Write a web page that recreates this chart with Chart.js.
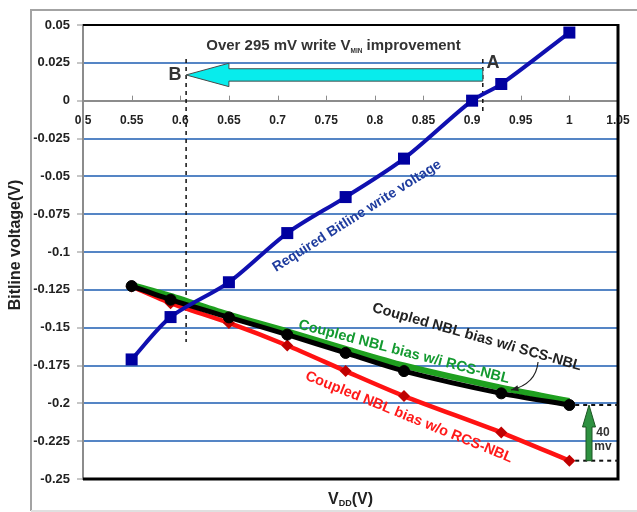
<!DOCTYPE html>
<html lang="en">
<head>
  <meta charset="UTF-8" />
  <title>Bitline voltage vs VDD</title>
  <script src="https://cdn.jsdelivr.net/npm/chart.js"></script>
  <style>
    html, body { margin: 0; padding: 0; background: #fff; }
    #wrap { width: 637px; height: 512px; }
  </style>
</head>
<body>
  <div id="wrap"><canvas id="chart" width="637" height="512"></canvas></div>

  <script>
    // VDD sweep points (V)
    const vddRequired = [0.55, 0.59, 0.65, 0.71, 0.77, 0.83, 0.90, 0.93, 1.00];
    const vddNbl = [0.55, 0.59, 0.65, 0.71, 0.77, 0.83, 0.93, 1.00];

    // Bitline voltage (V)
    const requiredWrite = [-0.171, -0.143, -0.120, -0.0875, -0.0637, -0.0383, 0.000, 0.011, 0.045];
    const scsNbl = [-0.1225, -0.1315, -0.1432, -0.1546, -0.1667, -0.1787, -0.1934, -0.2011];
    const rcsNbl = [-0.1217, -0.1290, -0.1414, -0.1524, -0.1640, -0.1750, -0.1897, -0.1985];
    const noRcsNbl = [-0.1228, -0.1338, -0.1469, -0.1618, -0.1787, -0.1952, -0.2193, -0.2379];

    // axis ranges / steps
    const xTicks = [0.5, 1.05, 0.05];
    const yTicks = [-0.25, 0.05, 0.025];

    // annotation anchors (in data units)
    const pointA = 0.911;
    const pointB = 0.606;

    const pts = (xs, ys) => xs.map((x, i) => ({ x: x, y: ys[i] }));
    const fmt = v => String(parseFloat(Number(v).toFixed(3)));
    const FONT = "'Liberation Sans', Arial, sans-serif";

    function rotText(ctx, txt, x, y, deg, font, color) {
      ctx.save();
      ctx.translate(x, y);
      ctx.rotate(deg * Math.PI / 180);
      ctx.font = font;
      ctx.fillStyle = color;
      ctx.textAlign = "center";
      ctx.textBaseline = "middle";
      ctx.fillText(txt, 0, 0);
      ctx.restore();
    }

    // text with a subscript part in the middle, centred on cx
    function subText(ctx, pre, sub, post, cx, y, size, subSize, color) {
      ctx.save();
      ctx.fillStyle = color;
      ctx.textBaseline = "alphabetic";
      ctx.textAlign = "left";
      ctx.font = "bold " + size + "px " + FONT;
      const w1 = ctx.measureText(pre).width;
      const w3 = ctx.measureText(post).width;
      ctx.font = "bold " + subSize + "px " + FONT;
      const w2 = ctx.measureText(sub).width;
      let x = cx - (w1 + w2 + w3) / 2;
      ctx.font = "bold " + size + "px " + FONT;
      ctx.fillText(pre, x, y);
      x += w1;
      ctx.font = "bold " + subSize + "px " + FONT;
      ctx.fillText(sub, x, y + size * 0.15);
      x += w2;
      ctx.font = "bold " + size + "px " + FONT;
      ctx.fillText(post, x, y);
      ctx.restore();
    }

    const frame = {
      id: "frame",
      beforeDraw(chart) {
        const ctx = chart.ctx;
        ctx.save();
        ctx.fillStyle = "#fff";
        ctx.fillRect(0, 0, chart.width, chart.height);
        ctx.strokeStyle = "#a3a3a3";
        ctx.lineWidth = 2;
        ctx.beginPath();
        ctx.moveTo(31, 511); ctx.lineTo(31, 10); ctx.lineTo(chart.width, 10);
        ctx.stroke();
        ctx.strokeStyle = "#e0e0e0";
        ctx.beginPath();
        ctx.moveTo(31, 511); ctx.lineTo(chart.width, 511);
        ctx.stroke();
        ctx.restore();
      },
      beforeDatasetsDraw(chart) {
        const { ctx, chartArea: a, scales } = chart;
        const x = scales.x, y = scales.y;
        ctx.save();
        // small inward tick marks on the zero axis
        const y0 = y.getPixelForValue(0);
        ctx.strokeStyle = "#8c8c8c";
        ctx.lineWidth = 1;
        for (let v = xTicks[0]; v <= xTicks[1] + 1e-9; v += xTicks[2]) {
          const px = Math.round(x.getPixelForValue(v)) + 0.5;
          ctx.beginPath(); ctx.moveTo(px, y0); ctx.lineTo(px, y0 - 5); ctx.stroke();
        }
        // plot border
        ctx.strokeStyle = "#000";
        ctx.lineWidth = 2;
        ctx.beginPath(); ctx.moveTo(a.left, a.top); ctx.lineTo(a.right, a.top); ctx.stroke();
        ctx.lineWidth = 3;
        ctx.beginPath(); ctx.moveTo(a.right, a.top - 1); ctx.lineTo(a.right, a.bottom); ctx.lineTo(a.left, a.bottom); ctx.stroke();

        // dashed marker lines A and B
        ctx.strokeStyle = "#111";
        ctx.lineWidth = 1.5;
        ctx.setLineDash([4, 4]);
        const xa = x.getPixelForValue(pointA), xb = x.getPixelForValue(pointB);
        ctx.beginPath(); ctx.moveTo(xa, 59); ctx.lineTo(xa, 114); ctx.stroke();
        ctx.beginPath(); ctx.moveTo(xb, 59); ctx.lineTo(xb, y.getPixelForValue(-0.1595)); ctx.stroke();
        // dashed levels for the 40 mV gap
        const yTop = y.getPixelForValue(scsNbl[scsNbl.length - 1]);
        const yBot = y.getPixelForValue(noRcsNbl[noRcsNbl.length - 1]);
        const xs = x.getPixelForValue(1.006);
        ctx.lineWidth = 2;
        ctx.beginPath(); ctx.moveTo(xs, yTop); ctx.lineTo(a.right, yTop); ctx.stroke();
        ctx.beginPath(); ctx.moveTo(xs, yBot); ctx.lineTo(a.right, yBot); ctx.stroke();
        ctx.setLineDash([]);
        ctx.restore();
      },
      afterDatasetsDraw(chart) {
        const { ctx, scales } = chart;
        const x = scales.x, y = scales.y;
        const P = (vx, vy) => [x.getPixelForValue(vx), y.getPixelForValue(vy)];
        ctx.save();

        // cyan arrow from A to B
        const tipX = x.getPixelForValue(pointB), tipY = y.getPixelForValue(0.017);
        const baseX = x.getPixelForValue(0.650), tailX = x.getPixelForValue(pointA);
        ctx.beginPath();
        ctx.moveTo(tipX, tipY);
        ctx.lineTo(baseX, tipY - 11.7);
        ctx.lineTo(baseX, tipY - 6.2);
        ctx.lineTo(tailX, tipY - 6.2);
        ctx.lineTo(tailX, tipY + 6.2);
        ctx.lineTo(baseX, tipY + 6.2);
        ctx.lineTo(baseX, tipY + 11.7);
        ctx.closePath();
        ctx.fillStyle = "#08ecec";
        ctx.fill();
        ctx.strokeStyle = "#4a4a4a";
        ctx.lineWidth = 1;
        ctx.stroke();

        // green 40 mV arrow
        const ax = x.getPixelForValue(1.0202);
        const ayTop = y.getPixelForValue(scsNbl[scsNbl.length - 1]);
        const ayBot = y.getPixelForValue(noRcsNbl[noRcsNbl.length - 1]);
        ctx.beginPath();
        ctx.moveTo(ax, ayTop);
        ctx.lineTo(ax + 6.5, ayTop + 22);
        ctx.lineTo(ax + 3, ayTop + 22);
        ctx.lineTo(ax + 3, ayBot);
        ctx.lineTo(ax - 3, ayBot);
        ctx.lineTo(ax - 3, ayTop + 22);
        ctx.lineTo(ax - 6.5, ayTop + 22);
        ctx.closePath();
        ctx.fillStyle = "#2e9140";
        ctx.fill();
        ctx.strokeStyle = "#1d5524";
        ctx.stroke();

        // curved pointer to the SCS-NBL curve
        const c0 = P(0.9678, -0.1727), c1 = P(0.9657, -0.1873), c2 = P(0.940, -0.1912);
        ctx.strokeStyle = "#222";
        ctx.lineWidth = 1.2;
        ctx.beginPath();
        ctx.moveTo(c0[0], c0[1]);
        ctx.quadraticCurveTo(c1[0], c1[1], c2[0], c2[1]);
        ctx.stroke();
        const ang = Math.atan2(c2[1] - c1[1], c2[0] - c1[0]);
        ctx.beginPath();
        ctx.moveTo(c2[0], c2[1]);
        ctx.lineTo(c2[0] - 8 * Math.cos(ang - 0.4), c2[1] - 8 * Math.sin(ang - 0.4));
        ctx.lineTo(c2[0] - 8 * Math.cos(ang + 0.4), c2[1] - 8 * Math.sin(ang + 0.4));
        ctx.closePath();
        ctx.fillStyle = "#222";
        ctx.fill();

        // texts
        const t = P(0.7575, 0.0368);
        subText(ctx, "Over 295 mV write V", "MIN", " improvement", t[0], t[1] + 5.5, 15, 6.5, "#333");
        let p = P(0.9215, 0.0249);
        rotText(ctx, "A", p[0], p[1], 0, "bold 18px " + FONT, "#333");
        p = P(0.5946, 0.017);
        rotText(ctx, "B", p[0], p[1], 0, "bold 18px " + FONT, "#333");
        p = P(0.7817, -0.0762);
        rotText(ctx, "Required Bitline write voltage", p[0], p[1], -32.4, "bold 14px " + FONT, "#1f3c9e");
        p = P(0.905, -0.1562);
        rotText(ctx, "Coupled NBL bias w/i SCS-NBL", p[0], p[1], 15.8, "bold 14.5px " + FONT, "#222");
        p = P(0.830, -0.1661);
        rotText(ctx, "Coupled NBL bias w/i RCS-NBL", p[0], p[1], 14.6, "bold 14.5px " + FONT, "#149a30");
        p = P(0.8351, -0.2091);
        rotText(ctx, "Coupled NBL bias w/o RCS-NBL", p[0], p[1], 22, "bold 14.5px " + FONT, "#ff1a1a");
        p = P(1.0346, -0.2197);
        rotText(ctx, "40", p[0], p[1], 0, "bold 12px " + FONT, "#333");
        p = P(1.0346, -0.2289);
        rotText(ctx, "mv", p[0], p[1], 0, "bold 12px " + FONT, "#333");

        // axis titles
        rotText(ctx, "Bitline voltage(V)", 16, 245, -90, "bold 16px " + FONT, "#222");
        subText(ctx, "V", "DD", "(V)", (chart.chartArea.left + chart.chartArea.right) / 2, 504, 16, 9, "#222");
        ctx.restore();
      }
    };

    new Chart(document.getElementById("chart"), {
      type: "line",
      data: {
        datasets: [
          {
            label: "Required Bitline write voltage",
            data: pts(vddRequired, requiredWrite),
            borderColor: "#1010b0",
            backgroundColor: "#0000a0",
            borderWidth: 4,
            pointStyle: "rect",
            pointRadius: 8.5,
            pointBorderWidth: 0,
            tension: 0.3,
            order: 0
          },
          {
            label: "Coupled NBL bias w/i SCS-NBL",
            data: pts(vddNbl, scsNbl),
            borderColor: "#000",
            backgroundColor: "#000",
            borderWidth: 5,
            pointStyle: "circle",
            pointRadius: 5.5,
            pointBorderWidth: 1,
            tension: 0.25,
            order: 1
          },
          {
            label: "Coupled NBL bias w/i RCS-NBL",
            data: pts(vddNbl, rcsNbl),
            borderColor: "#1fa01f",
            backgroundColor: "#1fa01f",
            borderWidth: 6,
            pointStyle: "triangle",
            pointRadius: 2.5,
            pointBorderWidth: 0,
            tension: 0.25,
            order: 2
          },
          {
            label: "Coupled NBL bias w/o RCS-NBL",
            data: pts(vddNbl, noRcsNbl),
            borderColor: "#ff1212",
            backgroundColor: "#c00000",
            borderWidth: 4.5,
            pointStyle: "rectRot",
            pointRadius: 6,
            pointBorderWidth: 0,
            tension: 0.25,
            order: 3
          }
        ]
      },
      options: {
        responsive: false,
        animation: false,
        layout: { padding: { top: 25, right: 19, bottom: 33, left: 0 } },
        plugins: { legend: { display: false }, tooltip: { enabled: false } },
        scales: {
          x: {
            type: "linear",
            position: { y: 0 },
            min: xTicks[0],
            max: xTicks[1],
            afterFit: s => { s.paddingLeft = 0; s.paddingRight = 0; },
            grid: { display: false, drawTicks: false },
            border: { display: true, color: "#8c8c8c", width: 2 },
            ticks: {
              stepSize: xTicks[2],
              padding: 13,
              color: "#222",
              font: { family: FONT, size: 12, weight: "bold" },
              callback: v => fmt(v),
              maxRotation: 0,
              autoSkip: false
            }
          },
          y: {
            type: "linear",
            min: yTicks[0],
            max: yTicks[1],
            afterFit: s => { s.width = 83; },
            grid: {
              color: c => (Math.abs(c.tick.value) < 1e-9 ? "#8c8c8c" : "#5585c5"),
              lineWidth: 2,
              tickColor: "#8c8c8c",
              tickLength: 6,
              tickWidth: 1
            },
            border: { display: true, color: "#8c8c8c", width: 2 },
            ticks: {
              stepSize: yTicks[2],
              padding: 7,
              color: "#222",
              font: { family: FONT, size: 13, weight: "bold" },
              callback: v => fmt(v)
            }
          }
        }
      },
      plugins: [frame]
    });
  </script>
</body>
</html>
